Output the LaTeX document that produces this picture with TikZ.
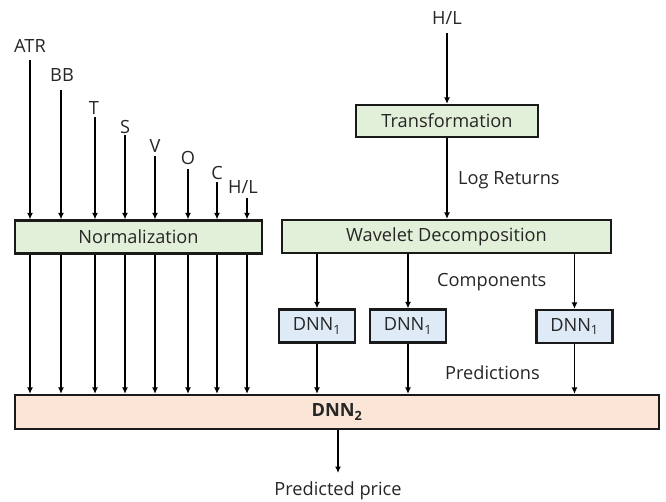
\documentclass[tikz,border=0pt]{standalone}
\usepackage{fontspec}
\setmainfont{Open Sans}
\usetikzlibrary{arrows.meta}
\definecolor{boxgreen}{HTML}{E2EFD9}
\definecolor{boxblue}{HTML}{DEEBF7}
\definecolor{boxpeach}{HTML}{FBE5D6}
\definecolor{edge}{HTML}{1A1A1A}
\tikzset{
  base/.style={draw=edge, line width=2.2pt, inner sep=0pt, font=\fontsize{18.2}{21}\selectfont, text=black!85},
  greenbox/.style={base, fill=boxgreen, minimum height=33pt},
  bluebox/.style={base, fill=boxblue, minimum width=76pt, minimum height=33pt},
  peachbox/.style={base, fill=boxpeach, minimum width=644pt, minimum height=34pt},
  lbl/.style={inner sep=0pt, font=\fontsize{18.2}{21}\selectfont, text=black!85},
  arr/.style={draw=black, line width=1.8pt, -{Latex[length=6.5pt,width=6pt]}}
}
\begin{document}
\begin{tikzpicture}[x=1pt,y=-1pt]
\useasboundingbox (0,0) rectangle (666,502);
% boxes
\node[greenbox, minimum width=247pt] (norm) at (138.5,237) {Normalization};
\node[greenbox, minimum width=182pt, minimum height=32pt] (trans) at (447,121) {Transformation};
\node[greenbox, minimum width=329pt] (wave) at (446.5,236.5) {Wavelet Decomposition};
\node[bluebox] (d1) at (317,326) {DNN\textsubscript{1}};
\node[bluebox] (d2) at (408,326) {DNN\textsubscript{1}};
\node[bluebox] (d3) at (574.5,326.5) {DNN\textsubscript{1}};
\node[peachbox] (dnn2) at (337,412) {\bfseries DNN\textsubscript{2}};
% input labels
\node[lbl] (lATR) at (30,46) {ATR};
\node[lbl] (lBB) at (62,75) {BB};
\node[lbl] (lT) at (94,108) {T};
\node[lbl] (lS) at (125,127) {S};
\node[lbl] (lV) at (155,146) {V};
\node[lbl] (lO) at (188,158) {O};
\node[lbl] (lC) at (217,173) {C};
\node[lbl] (lHL) at (243,187) {H/L};
\node[lbl] (lHL2) at (447,18) {H/L};
\node[lbl, anchor=west] (lLog) at (458,180) {Log Returns};
\node[lbl, anchor=west] (lComp) at (437,282) {Components};
\node[lbl, anchor=west] (lPred) at (445,373) {Predictions};
\node[lbl] (lPrice) at (338,491) {Predicted price};
% arrow start coordinates
\coordinate (sATR) at (30,60);
\coordinate (sBB) at (61,90);
\coordinate (sT) at (95,117);
\coordinate (sS) at (125,135);
\coordinate (sV) at (155,156);
\coordinate (sO) at (188,169);
\coordinate (sC) at (217,182);
\coordinate (sHL) at (247,198);
\coordinate (sHL2) at (447,33);
\coordinate (ePrice) at (338,473);
% input arrows to normalization and on to DNN2
\foreach \s in {sATR,sBB,sT,sS,sV,sO,sC,sHL}{
  \draw[arr] (\s) -- (\s |- norm.north);
  \draw[arr] (\s |- norm.south) -- (\s |- dnn2.north);
}
% right branch
\draw[arr] (sHL2) -- (trans.north);
\draw[arr] (trans.south) -- (wave.north -| trans.south);
\foreach \d in {d1,d2,d3}{
  \draw[arr] (wave.south -| \d.north) -- (\d.north);
  \draw[arr] (\d.south) -- (dnn2.north -| \d.south);
}
\draw[arr] (dnn2.south -| ePrice) -- (ePrice);
\end{tikzpicture}
\end{document}
